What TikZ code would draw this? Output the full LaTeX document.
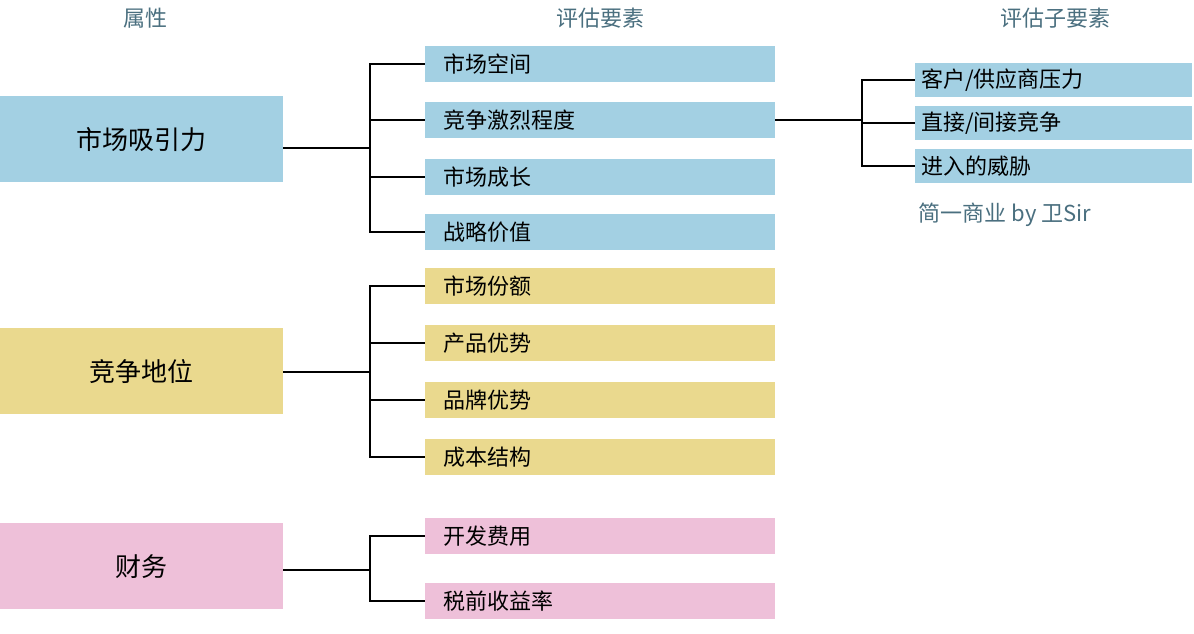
\documentclass[tikz,border=0pt]{standalone}
\usepackage{fontspec}
\setmainfont{Noto Sans CJK SC}
\definecolor{cb}{HTML}{A3D0E3}
\definecolor{cy}{HTML}{EAD98E}
\definecolor{cp}{HTML}{EEC0D9}
\definecolor{ct}{HTML}{4A6F7F}
\begin{document}
\begin{tikzpicture}[x=1pt,y=1pt,
 big/.style={minimum width=283pt,minimum height=86pt,inner sep=0pt,font=\fontsize{26}{28}\selectfont},
 item/.style={minimum width=350pt,minimum height=36pt,inner xsep=18pt,inner ysep=0pt,text width=314pt,align=left,font=\fontsize{22}{24}\selectfont},
 sub/.style={minimum width=277pt,minimum height=34pt,inner xsep=6pt,inner ysep=0pt,text width=265pt,align=left,font=\fontsize{22}{24}\selectfont},
 head/.style={text=ct,font=\fontsize{22}{24}\selectfont},
 ln/.style={line width=1.2pt,black}]
\useasboundingbox (0,0) rectangle (1194,634);
\node[head] (h1) at (145,616) {属性};
\node[head] (h2) at (600,616) {评估要素};
\node[head] (h3) at (1055,616) {评估子要素};
\node[big,fill=cb] (A) at (141.5,494.5) {市场吸引力};
\node[big,fill=cy] (B) at (141.5,262.5) {竞争地位};
\node[big,fill=cp] (C) at (141.5,67.5) {财务};
\node[item,fill=cb] (a1) at (600,570) {市场空间};
\node[item,fill=cb] (a2) at (600,514) {竞争激烈程度};
\node[item,fill=cb] (a3) at (600,457) {市场成长};
\node[item,fill=cb] (a4) at (600,402) {战略价值};
\node[item,fill=cy] (b1) at (600,348) {市场份额};
\node[item,fill=cy] (b2) at (600,291) {产品优势};
\node[item,fill=cy] (b3) at (600,234) {品牌优势};
\node[item,fill=cy] (b4) at (600,177) {成本结构};
\node[item,fill=cp] (c1) at (600,98) {开发费用};
\node[item,fill=cp] (c2) at (600,33) {税前收益率};
\node[sub,fill=cb] (s1) at (1053.5,554) {客户/供应商压力};
\node[sub,fill=cb] (s2) at (1053.5,511) {直接/间接竞争};
\node[sub,fill=cb] (s3) at (1053.5,468) {进入的威胁};
\node[head,anchor=west] (w) at (915,419) {简一商业 by 卫Sir};
\coordinate (j1) at (370,486);
\coordinate (j2) at (370,262);
\coordinate (j3) at (370,64);
\coordinate (j4) at (862,514);
\draw[ln] (A.east|-j1) -- (j1);
\draw[ln] (B.east|-j2) -- (j2);
\draw[ln] (C.east|-j3) -- (j3);
\draw[ln] (a2.east) -- (j4);
\foreach \n in {a1,a2,a3,a4} \draw[ln] (\n.west) -| (j1);
\foreach \n in {b1,b2,b3,b4} \draw[ln] (\n.west) -| (j2);
\foreach \n in {c1,c2} \draw[ln] (\n.west) -| (j3);
\foreach \n in {s1,s2,s3} \draw[ln] (\n.west) -| (j4);
\end{tikzpicture}
\end{document}
